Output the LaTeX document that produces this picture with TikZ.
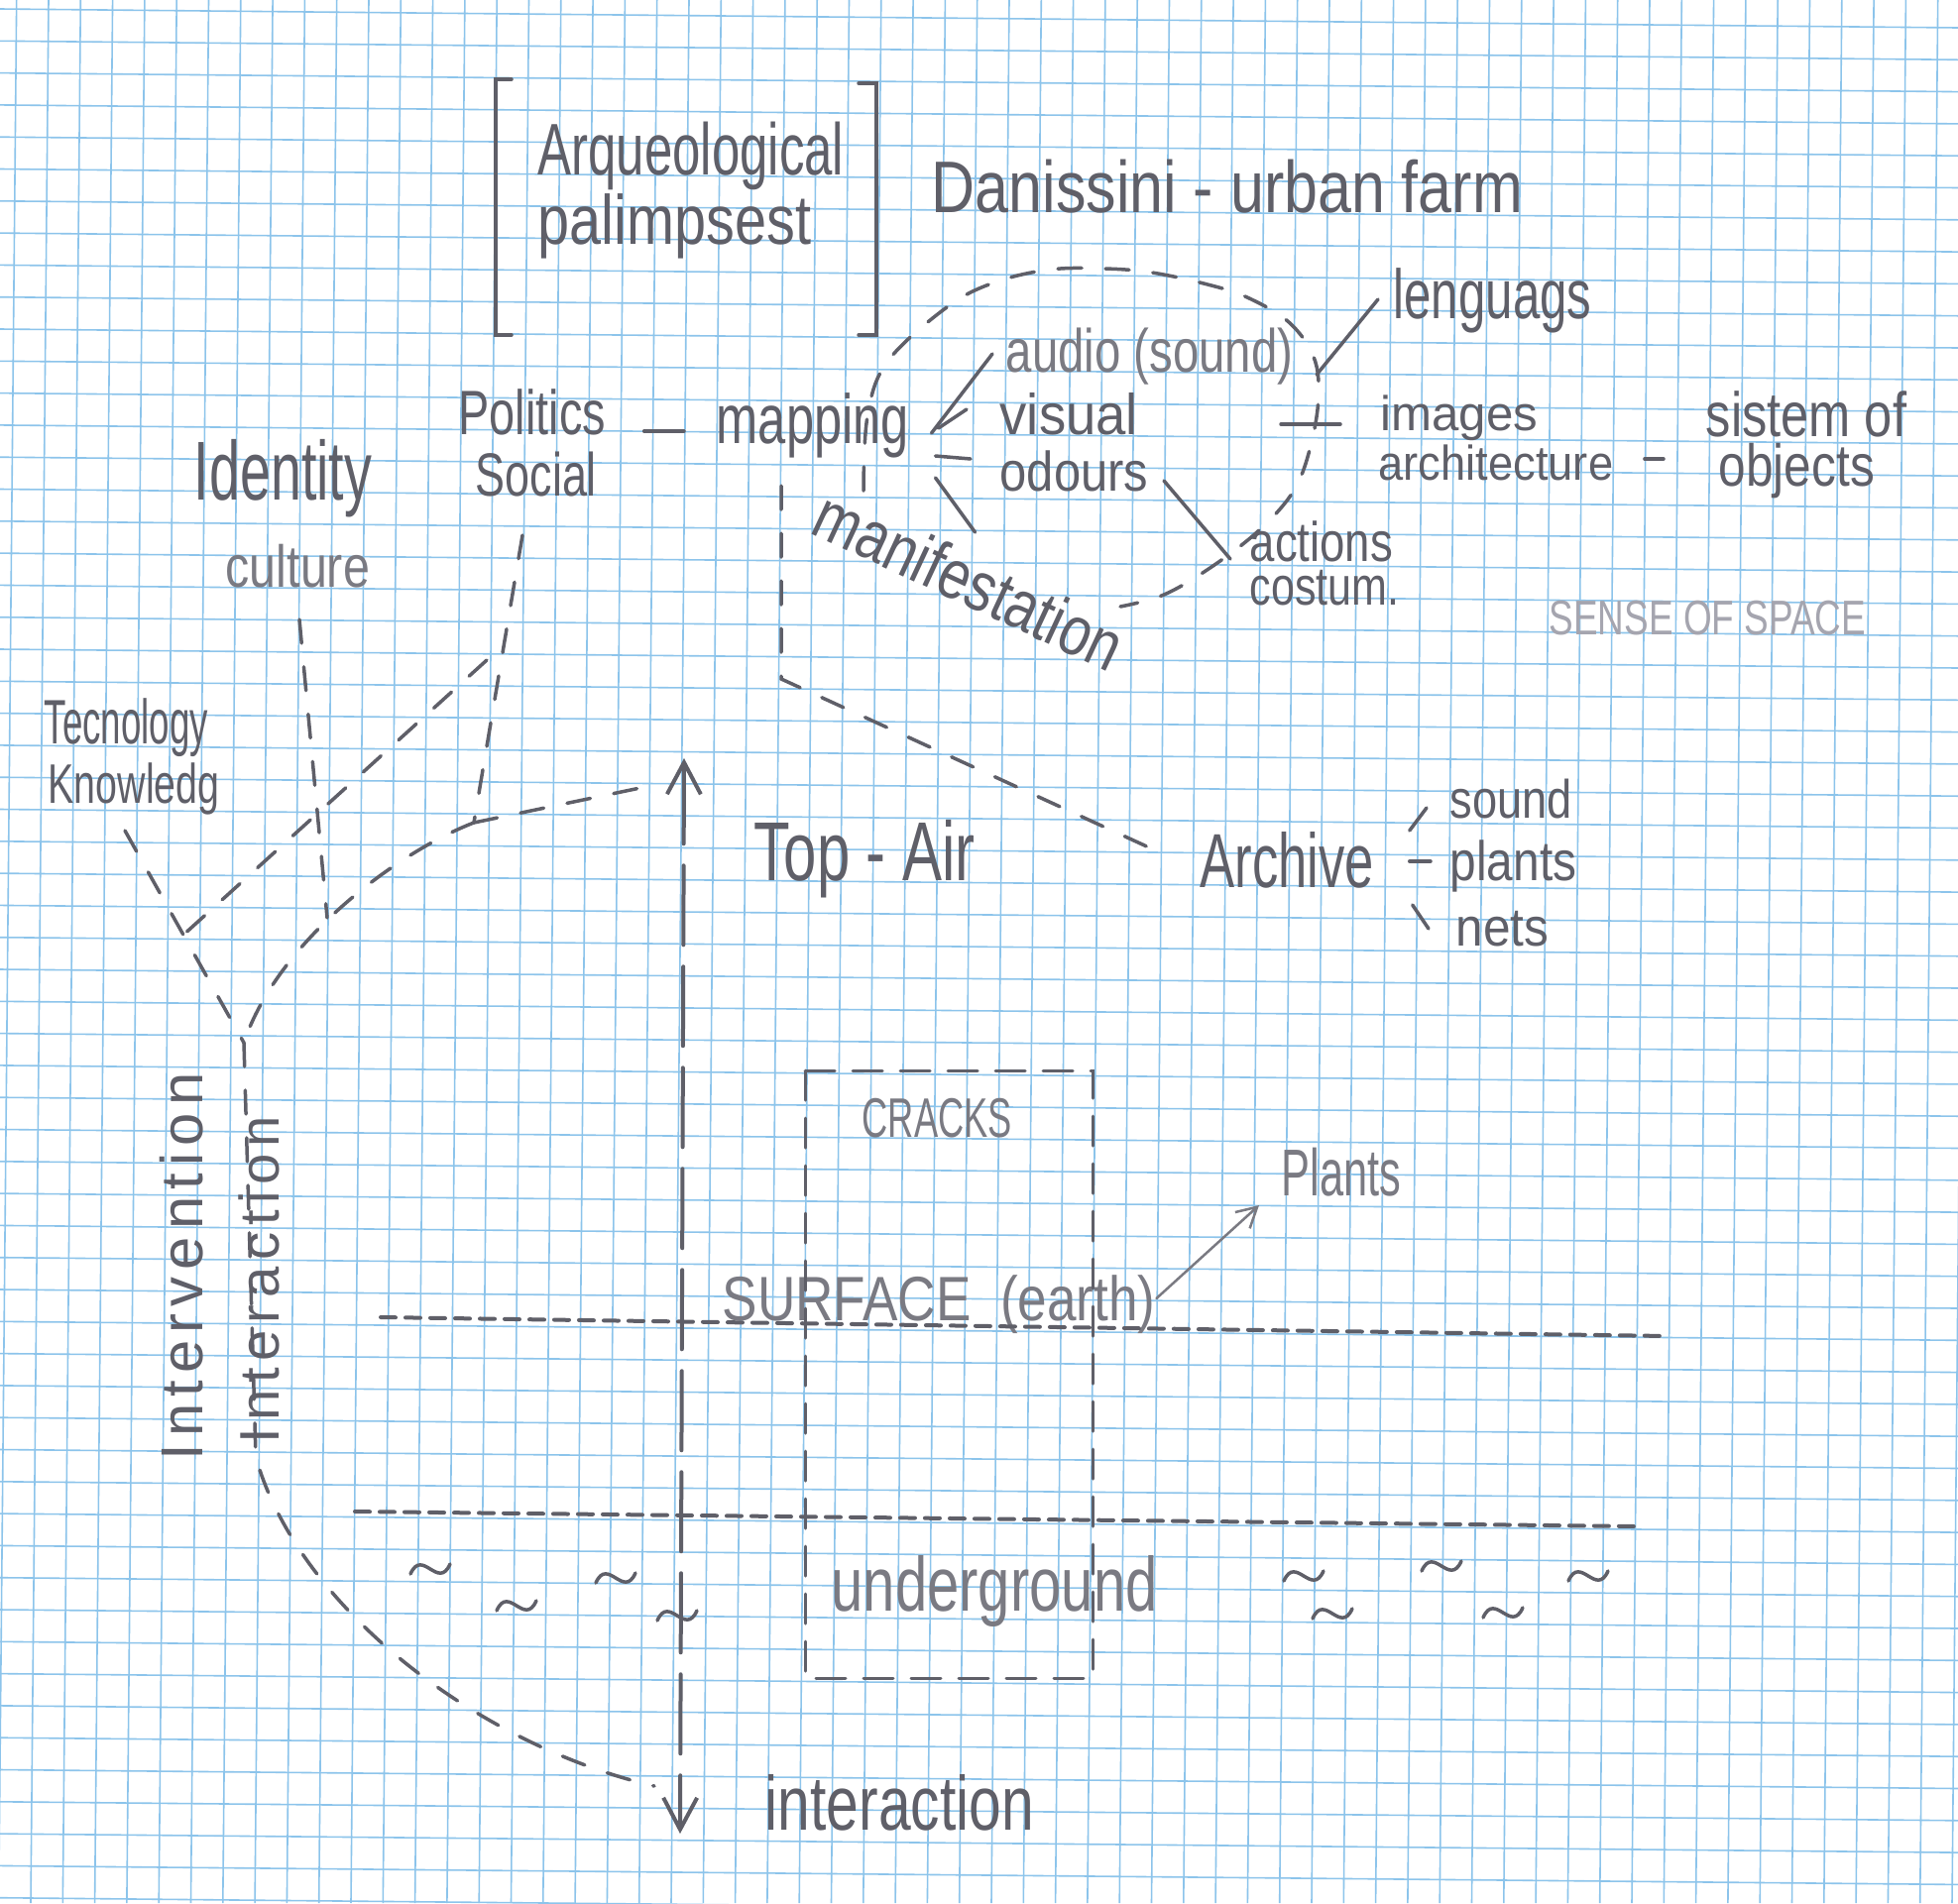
\documentclass[tikz,border=0pt]{standalone}
\usepackage{fontspec}
\usepackage{xcolor}
\usepackage{tikz}
\usetikzlibrary{calc,arrows.meta}
\newfontfamily\hand{Liberation Sans}
\newfontfamily\handwide[LetterSpace=12]{Liberation Sans}
\definecolor{gridblue}{RGB}{140,196,235}
\definecolor{pencil}{RGB}{95,95,104}
\definecolor{pencillt}{RGB}{122,122,130}
\definecolor{pencilfaint}{RGB}{165,165,175}
\tikzset{
  hand/.style 2 args={font=\hand\addfontfeature{FakeStretch=#2}\fontsize{#1}{#1}\selectfont,
    text=pencil, inner sep=0pt, anchor=base west},
  handw/.style={font=\handwide\fontsize{#1}{#1}\selectfont, text=pencil, inner sep=0pt, anchor=center, rotate=90},
  stroke/.style={draw=pencil, line width=0.35mm, line cap=round},
  dashln/.style={stroke, dash pattern=on 2.4mm off 2.4mm},
  finedash/.style={stroke, line width=0.4mm, dash pattern=on 1.5mm off 1mm},
  longdash/.style={stroke, line width=0.4mm, dash pattern=on 8mm off 2.2mm},
  boxdash/.style={stroke, line width=0.3mm, dash pattern=on 3mm off 1.8mm},
  gridln/.style={draw=gridblue, line width=0.16mm}
}

\begin{document}
\begin{tikzpicture}[x=0.1mm, y=-0.1mm]
  \useasboundingbox (0,0) rectangle (1975,1920);
  \fill[white] (0,0) rectangle (1975,1920);
  \begin{scope}
    \clip (0,0) rectangle (1975,1920);
    \foreach \k in {-1,...,60}
      \draw[gridln] (49+32.3*\k,0) -- (31+32.3*\k,1920);
    \foreach \k in {0,...,59}
      \draw[gridln] (0,9+32.3*\k) -- (1975,28+32.3*\k);
  \end{scope}

  \node[hand={21}{0.69}] (arq) at (542,176) {Arqueological};
  \node[hand={20}{0.82}] (palimp) at (542,246) {palimpsest};
  \draw[stroke] (516,80) -- (500,80) -- (500,338) -- (516,338);
  \draw[stroke] (866,84) -- (884,84) -- (884,338) -- (866,338);
  \node[hand={21}{0.826}] (danissini) at (939,214) {Danissini - urban farm};

  \node[hand={20}{0.70}] (lenguags) at (1405,321) {lenguags};
  \node[hand={17.5}{0.77}, text=pencillt] (audio) at (1014,375) {audio (sound)};
  \node[hand={18}{0.74}] (politics) at (462,438) {Politics};
  \node[hand={17.5}{0.73}] (social) at (479,500) {Social};
  \node[hand={20}{0.72}] (mapping) at (722,447) {mapping};
  \node[hand={16.5}{0.94}] (visual) at (1008,438) {visual};
  \node[hand={16}{0.87}] (odours) at (1008,495) {odours};
  \node[hand={14}{1.0}] (images) at (1392,434) {images};
  \node[hand={14}{0.92}] (archit) at (1390,484) {architecture};
  \node[hand={18}{0.80}] (sistem) at (1720,440) {sistem of};
  \node[hand={17}{0.83}] (objects) at (1733,490) {objects};
  \node[hand={24}{0.66}] (identity) at (195,504) {Identity};
  \node[hand={17}{0.81}, text=pencillt] (culture) at (227,592) {culture};
  \node[hand={16}{0.81}] (actions) at (1260,566) {actions};
  \node[hand={15.5}{0.79}] (costum) at (1260,610) {costum.};
  \node[hand={14}{0.75}, text=pencilfaint] (sense) at (1562,640) {SENSE OF SPACE};
  \node[hand={20}{0.80}, anchor=center, rotate=-25] (manif) at (978,585) {manifestation};

  \node[hand={18}{0.58}] (tecno) at (44,750) {Tecnology};
  \node[hand={16}{0.70}] (knowl) at (48,810) {Knowledg};
  \node[hand={24}{0.71}] (topair) at (760,888) {Top - Air};
  \node[hand={22}{0.68}] (archive) at (1210,895) {Archive};
  \node[hand={15.5}{0.83}] (sound) at (1462,825) {sound};
  \node[hand={16}{0.85}] (plants) at (1462,888) {plants};
  \node[hand={15.5}{0.91}] (nets) at (1468,954) {nets};

  \node[hand={16}{0.645}, text=pencillt] (cracks) at (869,1147) {CRACKS};
  \node[hand={19}{0.65}, text=pencillt] (plantsup) at (1292,1206) {Plants};
  \node[hand={18}{0.84}, text=pencillt] (surface) at (728,1332) {SURFACE~~(earth)};
  \node[hand={22}{0.75}, text=pencillt] (undergr) at (838,1625) {underground};
  \node[hand={22}{0.76}] (interact) at (771,1846) {interaction};
  \node[handw=17] (interv) at (183,1278) {Intervention};
  \node[handw=16] (interac) at (261,1291) {Interaction};

  \draw[stroke] ($(politics.base east)+(38,-3)$) -- ($(mapping.base west)+(-32,-12)$);
  \draw[stroke] ($(mapping.base east)+(22,-10)$) -- ($(audio.base west)+(-13,-18)$);
  \draw[stroke] ($(mapping.base east)+(29,-15)$) -- ($(visual.base west)+(-33,-25)$);
  \draw[stroke] ($(mapping.base east)+(26,13)$) -- ($(odours.base west)+(-29,-32)$);
  \draw[stroke] ($(mapping.base east)+(26,35)$) -- ++(40,55);
  \draw[stroke] ($(odours.base east)+(15,-10)$) -- ($(actions.base west)+(-19,-2)$);
  \draw[stroke] ($(audio.base east)+(23,3)$) -- ($(lenguags.base west)+(-15,-19)$);
  \draw[stroke] ($(images.base west)+(-100,-6)$) -- ++(60,0);
  \draw[stroke] ($(archit.base east)+(31,-21)$) -- ($(objects.base west)+(-55,-27)$);
  \draw[stroke] ($(archive.base east)+(35,-57)$) -- ($(sound.base west)+(-23,-10)$);
  \draw[stroke] ($(archive.base east)+(35,-26)$) -- ($(plants.base west)+(-19,-19)$);
  \draw[stroke] ($(archive.base east)+(38,18)$) -- ($(nets.base west)+(-27,-17)$);
  \draw[stroke, draw=pencillt, line width=0.25mm, -{Straight Barb[length=2mm,width=2.2mm]}]
    ($(surface.base east)+(0,-22)$) -- ($(plantsup.base west)+(-22,10)$);

  \draw[dashln] plot[smooth, tension=0.6] coordinates {(871,495) (875,420) (895,365) (955,310)
    (1003,285) (1059,272) (1114,271) (1162,275) (1218,287) (1258,300) (1300,325) (1325,360)
    (1330,400) (1322,450) (1305,495) (1270,535) (1222,572) (1174,600) (1130,612)};

  \coordinate (mapbend) at (788,685);
  \draw[dashln] ($(mapping.base west)+(66,43)$) -- (mapbend) -- ($(archive.base west)+(-38,-34)$);

  \coordinate (sbot) at (478,830);
  \coordinate (cbot) at (330,926);
  \coordinate (jn) at (246,1052);
  \coordinate (sdiag) at (491,666);
  \coordinate (tdiag) at (183,945);
  \coordinate (hend) at (660,792);
  \coordinate (ibend) at (258,1470);
  \coordinate (iend) at (660,1802);
  \draw[dashln] ($(social.base west)+(48,40)$) -- (sbot);
  \draw[dashln] ($(culture.base west)+(75,33)$) -- (cbot);
  \draw[dashln] ($(knowl.base west)+(78,28)$) -- (jn);
  \draw[dashln] (sdiag) -- (tdiag);
  \draw[dashln] (sbot) -- (hend);
  \draw[dashln] (sbot) .. controls (400,860) and (280,950) .. (jn);
  \draw[dashln] (jn) -- (ibend) .. controls (300,1620) and (480,1760) .. (iend);

  \coordinate (airtip) at (690,765);
  \coordinate (deeptip) at (686,1850);
  \draw[longdash, {Straight Barb[length=3.2mm,width=3.4mm]}-{Straight Barb[length=3.2mm,width=3.4mm]}]
    (airtip) -- (deeptip);

  \draw[boxdash] (812,1080) rectangle (1102,1693);
  \draw[finedash] (384,1329) -- (1682,1348);
  \draw[finedash] (358,1525) -- (1650,1540);

  \foreach \tx/\ty in {434/1583, 521/1620, 621/1592, 683/1630, 1315/1590, 1344/1628, 1454/1580, 1516/1627, 1602/1590}
    \draw[stroke] (\tx-20,\ty+5) .. controls (\tx-8,\ty-22) and (\tx+8,\ty+22) .. (\tx+20,\ty-5);
\end{tikzpicture}
\end{document}
